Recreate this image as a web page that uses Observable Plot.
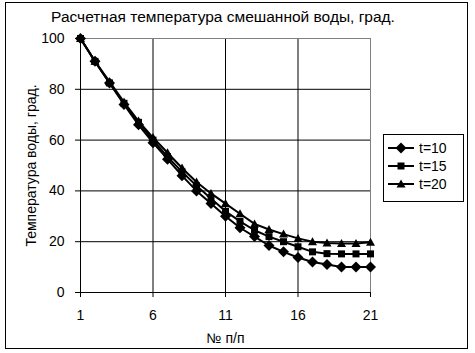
<!DOCTYPE html>
<html><head><meta charset="utf-8">
<script src="https://cdn.jsdelivr.net/npm/d3@7"></script>
<script src="https://cdn.jsdelivr.net/npm/@observablehq/plot@0.6"></script>
<style>
body{margin:0;background:#fff;}
#wrap{position:relative;width:475px;height:353px;font-family:"Liberation Sans",Arial,sans-serif;}
#border{position:absolute;left:5px;top:2px;width:461px;height:345px;border:1px solid #000;box-sizing:content-box;pointer-events:none;}
#title{position:absolute;left:0;width:446px;top:8px;text-align:center;font-size:15.5px;}
#legend{position:absolute;left:383px;top:134px;width:79px;height:66px;border:1px solid #000;background:#fff;}
svg.plot{position:absolute;left:0;top:0;}
</style></head>
<body><div id="wrap"><div id="border"></div><div id="title"></div><div id="legend"></div></div>
<script>
const title = "Расчетная температура смешанной воды, град.";
const yLabel = "Температура воды, град.";
const xLabel = "№ п/п";
const seriesNames = ["t=10", "t=15", "t=20"];
const xValues = [1,2,3,4,5,6,7,8,9,10,11,12,13,14,15,16,17,18,19,20,21];
const t10 = [100,91,82.5,74,66,59,52.5,46,40,35,30,25.5,22,18.5,16,13.8,12,11,10,10,10];
const t15 = [100,91,82.5,74.5,67,60,53.5,47.5,42,37,32,28,24.5,22,20,18,16,15.3,15.2,15.2,15.2];
const t20 = [100,91,83,75,67.5,61,55,49,43.5,39,35,31,27,24.8,23,21.3,20,19.5,19.3,19.3,19.8];
const xTicks = [1,6,11,16,21];
const yTicks = [0,20,40,60,80,100];

const diamondSym = {draw(c){const h=5.5;c.moveTo(0,-h);c.lineTo(h,0);c.lineTo(0,h);c.lineTo(-h,0);c.closePath();}};
const squareSym = {draw(c){const h=3.5;c.moveTo(-h,-h);c.lineTo(h,-h);c.lineTo(h,h);c.lineTo(-h,h);c.closePath();}};
const triSym = {draw(c){c.moveTo(0,-4.5);c.lineTo(4.5,3.5);c.lineTo(-4.5,3.5);c.closePath();}};
const symbols = [diamondSym, squareSym, triSym];
const allSeries = [t10, t15, t20];

const data = [];
allSeries.forEach((vals, s) => vals.forEach((v, i) => data.push({x: xValues[i], y: v, s: seriesNames[s]})));

document.getElementById("title").textContent = title;

const marks = [
  Plot.gridY([20,40,60,80], {stroke: "#000", strokeOpacity: 1}),
  Plot.gridX([6,11,16], {stroke: "#000", strokeOpacity: 1}),
  Plot.ruleY([100], {stroke: "#808080"}),
  Plot.ruleX([21], {stroke: "#808080"}),
  Plot.ruleY([0], {stroke: "#000"}),
  Plot.ruleX([1], {stroke: "#000"}),
  Plot.axisX({ticks: xTicks, tickSize: 5, tickPadding: 13, fontSize: 14, label: xLabel, labelAnchor: "center", labelOffset: 50, labelArrow: "none"}),
  Plot.axisY({ticks: yTicks, tickSize: 5, tickPadding: 11, fontSize: 14, label: yLabel, labelAnchor: "center", labelOffset: 54, labelArrow: "none"})
];
seriesNames.forEach((name, s) => {
  const d = data.filter(p => p.s === name);
  marks.push(Plot.line(d, {x: "x", y: "y", stroke: "#000", strokeWidth: 2}));
});
seriesNames.forEach((name, s) => {
  const d = data.filter(p => p.s === name);
  marks.push(Plot.dot(d, {x: "x", y: "y", symbol: symbols[s], fill: "#000", stroke: "none"}));
});

const chart = Plot.plot({
  width: 475, height: 353,
  marginLeft: 80, marginRight: 105, marginTop: 38, marginBottom: 61,
  style: {fontFamily: "'Liberation Sans', Arial, sans-serif", fontSize: "14px", color: "#000", background: "transparent"},
  x: {domain: [1, 21]},
  y: {domain: [0, 100]},
  marks
});
document.getElementById("wrap").insertBefore(chart, document.getElementById("border"));

// legend
const leg = d3.select("#legend").append("svg").attr("width", 79).attr("height", 66);
seriesNames.forEach((name, s) => {
  const g = leg.append("g").attr("transform", `translate(0,${13 + s*18})`);
  g.append("line").attr("x1", 4).attr("x2", 30).attr("y1", 0).attr("y2", 0).attr("stroke", "#000").attr("stroke-width", 2);
  const p = d3.path(); symbols[s].draw(p);
  g.append("path").attr("d", p.toString()).attr("transform", "translate(17,0)").attr("fill", "#000");
  g.append("text").attr("x", 35).attr("y", 0).attr("dy", "0.35em").attr("font-size", 14).attr("font-family", "'Liberation Sans', Arial, sans-serif").text(name);
});
</script></body></html>
